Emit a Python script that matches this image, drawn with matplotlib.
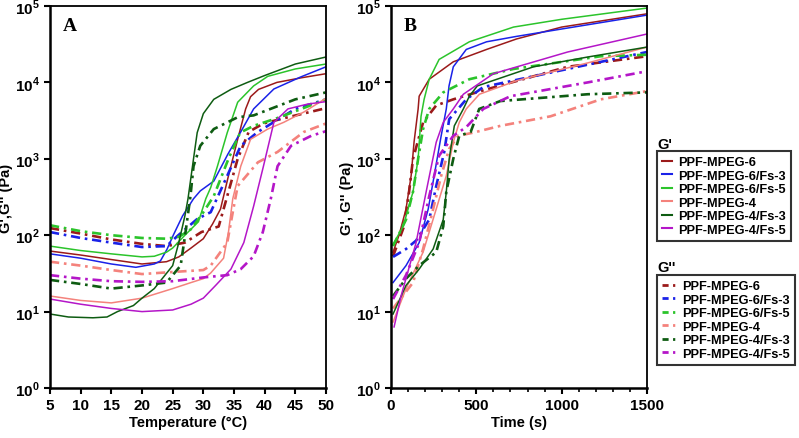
import numpy as np
import matplotlib
matplotlib.use('Agg')
import matplotlib.pyplot as plt
from matplotlib.lines import Line2D

plt.rcParams['font.family'] = ['Liberation Sans', 'DejaVu Sans']
plt.rcParams['font.weight'] = 'bold'
plt.rcParams['mathtext.fontset'] = 'custom'
plt.rcParams['mathtext.rm'] = 'Liberation Sans:bold'
plt.rcParams['mathtext.bf'] = 'Liberation Sans:bold'

names = ['PPF-MPEG-6', 'PPF-MPEG-6/Fs-3', 'PPF-MPEG-6/Fs-5',
         'PPF-MPEG-4', 'PPF-MPEG-4/Fs-3', 'PPF-MPEG-4/Fs-5']
colori = ['#9B1A1A', '#1A22E8', '#2BC42B', '#F4827C', '#0E5C12', '#B416C8']

# pannello A: G' (linea piena) e G'' (tratto-punto) contro temperatura
tA_g1 = [
    [5, 10, 15, 20, 24, 26, 28, 30, 31.5, 32.8, 34.1, 35.6, 36.9, 37.7, 39, 42, 46, 50],
    [5, 10, 15, 19, 22, 23, 24.1, 25.1, 26.6, 28.4, 29.5, 31.7, 34, 36.1, 38.2, 41.5, 45.9, 50],
    [5, 10, 15, 20, 22, 24, 25, 27, 29.2, 30.4, 31.2, 32.3, 33.9, 35.6, 38.2, 40.5, 45, 50],
    [5, 10, 15, 20, 25, 28, 30, 31.2, 33.3, 34.1, 34.8, 36.1, 37.7, 40.5, 43.1, 46.4, 50],
    [5, 8, 12, 14.3, 16, 18.6, 20, 22, 25, 26, 27, 27.5, 28.4, 29, 30, 31.7, 34.5, 37.2, 40, 45, 50],
    [5, 10, 15, 20, 25, 28, 30, 32, 34.5, 36.6, 38.2, 39.8, 41.5, 43.8, 47, 50],
]
gA_g1 = [
    [62, 55, 48, 42, 45, 52, 68, 90, 140, 220, 600, 1800, 4500, 6500, 8100, 10000, 11500, 13000],
    [57, 50, 42, 38, 42, 46, 66, 100, 178, 300, 380, 510, 1150, 2250, 4500, 8200, 11800, 16000],
    [72, 63, 57, 52, 53, 60, 68, 100, 150, 300, 420, 800, 2200, 5500, 9000, 12000, 15000, 17400],
    [16, 14, 13, 15, 20, 24, 27, 32, 50, 110, 300, 800, 1800, 2450, 3000, 4100, 6200],
    [9.3, 8.5, 8.3, 8.5, 10, 12, 15, 20, 40, 80, 180, 300, 1000, 2200, 3900, 6000, 8100, 10000, 12300, 17400, 21500],
    [14.6, 12.5, 11, 10, 10.5, 12.5, 15, 22, 36, 80, 240, 800, 3000, 4500, 5200, 5600],
]
tA_g2 = [
    [5, 10, 15, 20, 24, 27, 29.7, 32.5, 33.9, 35.6, 37.4, 39.8, 43.8, 50],
    [5, 10, 15, 20, 24, 25.8, 29, 31.2, 33.9, 36.1, 38.9, 40.5, 45, 50],
    [5, 10, 15, 20, 24, 26, 28, 30, 31.7, 34.1, 36, 38.2, 42, 46, 50],
    [5, 10, 15, 20, 25, 30, 31.2, 33.9, 34.8, 35.6, 38.9, 42.1, 46.4, 50],
    [5, 10, 15, 20, 24, 26.3, 27.1, 27.9, 28.4, 29.5, 31.7, 35.6, 38.2, 45, 50],
    [5, 10, 15, 20, 25, 30, 33.9, 36.1, 38.2, 39.7, 41, 42.1, 44.3, 47.6, 50],
]
gA_g2 = [
    [124, 105, 88, 77, 72, 80, 110, 130, 325, 1000, 2250, 2900, 3500, 4600],
    [110, 92, 80, 70, 72, 98, 163, 200, 600, 1480, 2250, 2700, 4500, 6000],
    [135, 113, 100, 92, 90, 95, 120, 200, 325, 1000, 2200, 2700, 3400, 4500, 6000],
    [45, 40, 35, 31, 33, 35, 40, 80, 200, 440, 900, 1230, 2250, 2900],
    [26, 23, 20, 22, 24, 40, 110, 325, 800, 1480, 2450, 3500, 3700, 6000, 7400],
    [30, 27, 25, 24.5, 25, 28, 30, 36, 53, 110, 300, 800, 1480, 2000, 2300],
]

# pannello B: contro tempo
tB_g1 = [
    [12, 47, 88, 118, 135, 159, 165, 224, 365, 560, 735, 1000, 1500],
    [12, 88, 165, 218, 253, 294, 324, 340, 365, 441, 560, 735, 1000, 1500],
    [12, 71, 129, 159, 176, 194, 224, 282, 459, 718, 1000, 1500],
    [12, 88, 188, 265, 324, 365, 400, 441, 518, 735, 835, 1153, 1500],
    [12, 88, 165, 247, 306, 324, 341, 371, 424, 459, 506, 835, 1153, 1500],
    [18, 59, 147, 206, 265, 306, 365, 424, 600, 1035, 1500],
]
gB_g1 = [
    [60, 100, 220, 600, 1650, 4500, 6600, 11000, 18600, 27000, 37000, 53000, 79000],
    [24, 40, 80, 220, 600, 2000, 4500, 9000, 16000, 27000, 34000, 40000, 50000, 76000],
    [76, 130, 370, 1000, 3600, 6000, 11000, 20000, 34000, 53000, 67000, 94000],
    [7.3, 20, 60, 220, 600, 1650, 3000, 4500, 7000, 10500, 12000, 18000, 29000],
    [9.3, 22, 36, 66, 160, 370, 1000, 2700, 4500, 6600, 9000, 16000, 21500, 29000],
    [6.3, 16, 80, 370, 1650, 3000, 4500, 7000, 13000, 25000, 43000],
]
tB_g2 = [
    [12, 76, 106, 129, 188, 265, 365, 560, 1035, 1500],
    [12, 88, 147, 224, 265, 312, 341, 441, 541, 1035, 1500],
    [12, 88, 129, 159, 188, 224, 306, 459, 718, 1229, 1500],
    [12, 129, 188, 247, 294, 341, 394, 482, 641, 935, 1229, 1500],
    [12, 88, 165, 265, 306, 324, 365, 400, 467, 517, 641, 1153, 1500],
    [12, 88, 165, 224, 282, 365, 441, 541, 700, 1153, 1500],
]
gB_g2 = [
    [53, 130, 370, 1000, 3000, 5000, 6000, 8100, 16000, 22000],
    [52, 66, 85, 160, 440, 1230, 3300, 6000, 8700, 15000, 25000],
    [72, 160, 370, 1000, 2450, 4500, 7400, 11000, 15000, 22000, 23000],
    [11, 24, 66, 220, 600, 1350, 2000, 2200, 2700, 3600, 6000, 7700],
    [16, 27, 40, 60, 130, 370, 1000, 2000, 2250, 4500, 5700, 7000, 7400],
    [14.6, 30, 80, 325, 1100, 2000, 2600, 4500, 6600, 10000, 14000],
]

tratto = (0, (3.5, 1.8, 1, 1.8))

fig = plt.figure(figsize=(7.99, 4.39), dpi=100)
axA = fig.add_axes([50/799, 50/439, 276/799, 382/439])
axB = fig.add_axes([391/799, 50/439, 256/799, 382/439])

for i in range(6):
    axA.plot(tA_g1[i], gA_g1[i], color=colori[i], lw=1.1)
    axA.plot(tA_g2[i], gA_g2[i], color=colori[i], lw=1.9, ls=tratto)
    axB.plot(tB_g1[i], gB_g1[i], color=colori[i], lw=1.1)
    axB.plot(tB_g2[i], gB_g2[i], color=colori[i], lw=1.9, ls=tratto)

for ax in [axA, axB]:
    ax.set_yscale('log')
    ax.set_ylim(1, 1e5)
    ax.set_yticks([1, 10, 100, 1e3, 1e4, 1e5])
    ax.set_yticklabels([r'$10^{%d}$' % k for k in range(6)])
    ax.yaxis.set_minor_locator(matplotlib.ticker.NullLocator())
    for s in ['left', 'bottom']:
        ax.spines[s].set_linewidth(1.8)
    for s in ['top', 'right']:
        ax.spines[s].set_linewidth(1.3)
    ax.tick_params(which='major', direction='out', length=4, width=1.5, labelsize=11)
    ax.tick_params(which='minor', direction='out', length=3, width=1.2)

axA.set_xlim(5, 50)
axA.set_xticks(np.arange(5, 51, 5))
axA.set_xlabel('Temperature (°C)', fontsize=10.5, fontweight='bold', labelpad=2)
axA.set_ylabel("G',G'' (Pa)", fontsize=10.5, fontweight='bold', labelpad=1)
axA.text(0.047, 0.948, 'A', transform=axA.transAxes, fontsize=14, fontweight='bold',
         family='Liberation Serif', va='center')

axB.set_xlim(0, 1500)
axB.set_xticks([0, 500, 1000, 1500])
axB.set_xticks(np.arange(0, 1501, 100), minor=True)
axB.set_xlabel('Time (s)', fontsize=10.5, fontweight='bold', labelpad=2)
axB.set_ylabel("G', G'' (Pa)", fontsize=10.5, fontweight='bold', labelpad=1)
axB.text(0.05, 0.948, 'B', transform=axB.transAxes, fontsize=14, fontweight='bold',
         family='Liberation Serif', va='center')

# legende fuori dal grafico
h1 = [Line2D([], [], color=c, lw=1.5) for c in colori]
h2 = [Line2D([], [], color=c, lw=2, ls=(0, (2.2, 1.6, 0.8, 1.6))) for c in colori]
kw = dict(loc='upper left', frameon=True, fancybox=False, edgecolor='black',
          prop={'weight': 'bold', 'size': 9.2}, handletextpad=0.45,
          labelspacing=0.12, borderpad=0.4, borderaxespad=0)
leg1 = fig.legend(h1, names, bbox_to_anchor=(657/799, 1-152/439), handlelength=0.8, **kw)
leg2 = fig.legend(h2, names, bbox_to_anchor=(657/799, 1-276/439), handlelength=1.1, **kw)
for lg in [leg1, leg2]:
    lg.get_frame().set_linewidth(1.5)
fig.text(657/799, 1-145/439, "G'", fontsize=10.5, fontweight='bold', va='center')
fig.text(657/799, 1-268/439, "G''", fontsize=10.5, fontweight='bold', va='center')

plt.savefig('out.png', dpi=100)
